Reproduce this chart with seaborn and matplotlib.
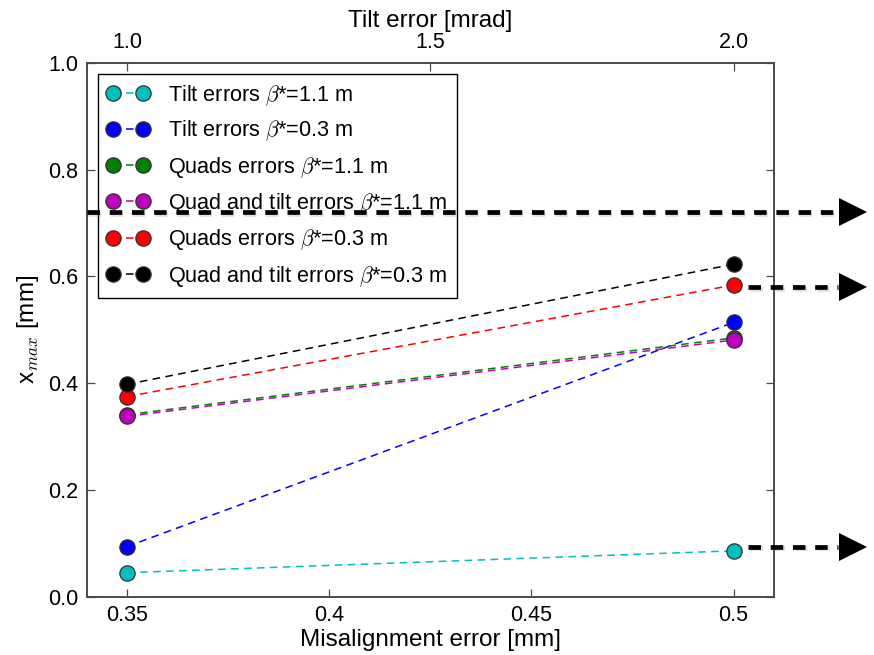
import matplotlib
matplotlib.use("Agg")
import matplotlib.pyplot as plt
import matplotlib.patheffects as pe
import seaborn as sns

# Misalignment error [mm] on the bottom axis
misalignment = [0.35, 0.5]
misalignment_ticks = [0.35, 0.4, 0.45, 0.5]
misalignment_ticklabels = ["0.35", "0.4", "0.45", "0.5"]

# Tilt error [mrad] on the top axis, aligned with the two misalignment points
tilt_at_points = [1.0, 2.0]
tilt_ticks = [1.0, 1.5, 2.0]
tilt_ticklabels = ["1.0", "1.5", "2.0"]

y_ticks = [0.0, 0.2, 0.4, 0.6, 0.8, 1.0]
y_ticklabels = ["0.0", "0.2", "0.4", "0.6", "0.8", "1.0"]

# x_max [mm] for each error scenario
xmax_tilt_b11 = [0.045, 0.086]
xmax_tilt_b03 = [0.094, 0.514]
xmax_quad_b11 = [0.341, 0.485]
xmax_quadtilt_b11 = [0.338, 0.481]
xmax_quad_b03 = [0.375, 0.584]
xmax_quadtilt_b03 = [0.398, 0.623]

series = [
    (r"Tilt errors $\beta$*=1.1 m", xmax_tilt_b11, "#00BFBF"),
    (r"Tilt errors $\beta$*=0.3 m", xmax_tilt_b03, "#0000FF"),
    (r"Quads errors $\beta$*=1.1 m", xmax_quad_b11, "#008000"),
    (r"Quad and tilt errors $\beta$*=1.1 m", xmax_quadtilt_b11, "#BF00BF"),
    (r"Quads errors $\beta$*=0.3 m", xmax_quad_b03, "#FF0000"),
    (r"Quad and tilt errors $\beta$*=0.3 m", xmax_quadtilt_b03, "#000000"),
]

# Pointer arrows leaving the plot on the right: level and starting x
arrow_levels = [0.72, 0.58, 0.094]
arrow_starts = [0.34, 0.5036, 0.5036]

x_limits = (0.34, 0.51)
y_limits = (0.0, 1.0)

sns.set_theme(style="white")
plt.rcParams["font.family"] = ["Liberation Sans", "DejaVu Sans"]
plt.rcParams["mathtext.fontset"] = "cm"
plt.rcParams["text.color"] = "black"
plt.rcParams["axes.labelcolor"] = "black"
plt.rcParams["xtick.color"] = "black"
plt.rcParams["ytick.color"] = "black"

spine_color = "#4a4a4a"
tick_fs = 15.5
label_fs = 17.5

fig = plt.figure(figsize=(8.74, 6.55), dpi=100)
ax = fig.add_axes([0.0992, 0.089, 0.7864, 0.8148])

for label, values, color in series:
    sns.lineplot(
        x=misalignment, y=values, ax=ax, color=color, label=label,
        linestyle=(0, (5, 3.5)), linewidth=1.1,
        marker="o", markersize=11, markeredgecolor="#303030",
        markeredgewidth=0.9,
    )

ax.set_xlim(*x_limits)
ax.set_ylim(*y_limits)
ax.set_xticks(misalignment_ticks)
ax.set_xticklabels(misalignment_ticklabels)
ax.set_yticks(y_ticks)
ax.set_yticklabels(y_ticklabels)
ax.set_xlabel("Misalignment error [mm]", fontsize=label_fs, labelpad=2)
ax.set_ylabel(r"x$_{max}$ [mm]", fontsize=label_fs, labelpad=5)
ax.tick_params(axis="both", direction="in", length=6, width=0.9,
               color=spine_color, labelcolor="black", labelsize=tick_fs,
               pad=6, bottom=True, left=True, right=True)
for s in ax.spines.values():
    s.set_color(spine_color)
    s.set_linewidth(1.2)

leg = ax.legend(loc="upper left", numpoints=2, fontsize=15.6,
                frameon=True, fancybox=False, edgecolor="black",
                handlelength=2.0, handletextpad=0.85, labelspacing=0.52,
                borderaxespad=0.5, borderpad=0.42, framealpha=1.0)
leg.get_frame().set_linewidth(1.0)
for t in leg.get_texts():
    t.set_color("black")

# Top axis in tilt error units
ax2 = ax.twiny()
scale = (tilt_at_points[1] - tilt_at_points[0]) / (misalignment[1] - misalignment[0])
ax2.set_xlim(tilt_at_points[0] + (x_limits[0] - misalignment[0]) * scale,
             tilt_at_points[0] + (x_limits[1] - misalignment[0]) * scale)
ax2.set_xticks(tilt_ticks)
ax2.set_xticklabels(tilt_ticklabels)
ax2.set_xlabel("Tilt error [mrad]", fontsize=label_fs, labelpad=4)
ax2.tick_params(axis="x", direction="in", length=6, width=0.9,
                color=spine_color, labelcolor="black", labelsize=tick_fs,
                pad=7, top=True)
for s in ax2.spines.values():
    s.set_color(spine_color)
    s.set_linewidth(1.2)

# Thick dashed arrows pointing off the right edge
arrow_end = 0.5259
head_x = 0.5295
shadow = [pe.SimpleLineShadow(offset=(1.2, -1.2), alpha=0.25, shadow_color="gray"),
          pe.Normal()]
for level, start in zip(arrow_levels, arrow_starts):
    ax2.plot([start, arrow_end], [level, level], transform=ax.transData,
             color="black", linewidth=3.4, linestyle=(0, (9 / 3.4, 7 / 3.4)),
             clip_on=False, zorder=10, path_effects=shadow)
    ax2.plot([head_x], [level], transform=ax.transData, marker=">",
             markersize=20, color="black", markeredgewidth=0,
             clip_on=False, zorder=10)

fig.savefig("out.png", dpi=100, facecolor="white")
